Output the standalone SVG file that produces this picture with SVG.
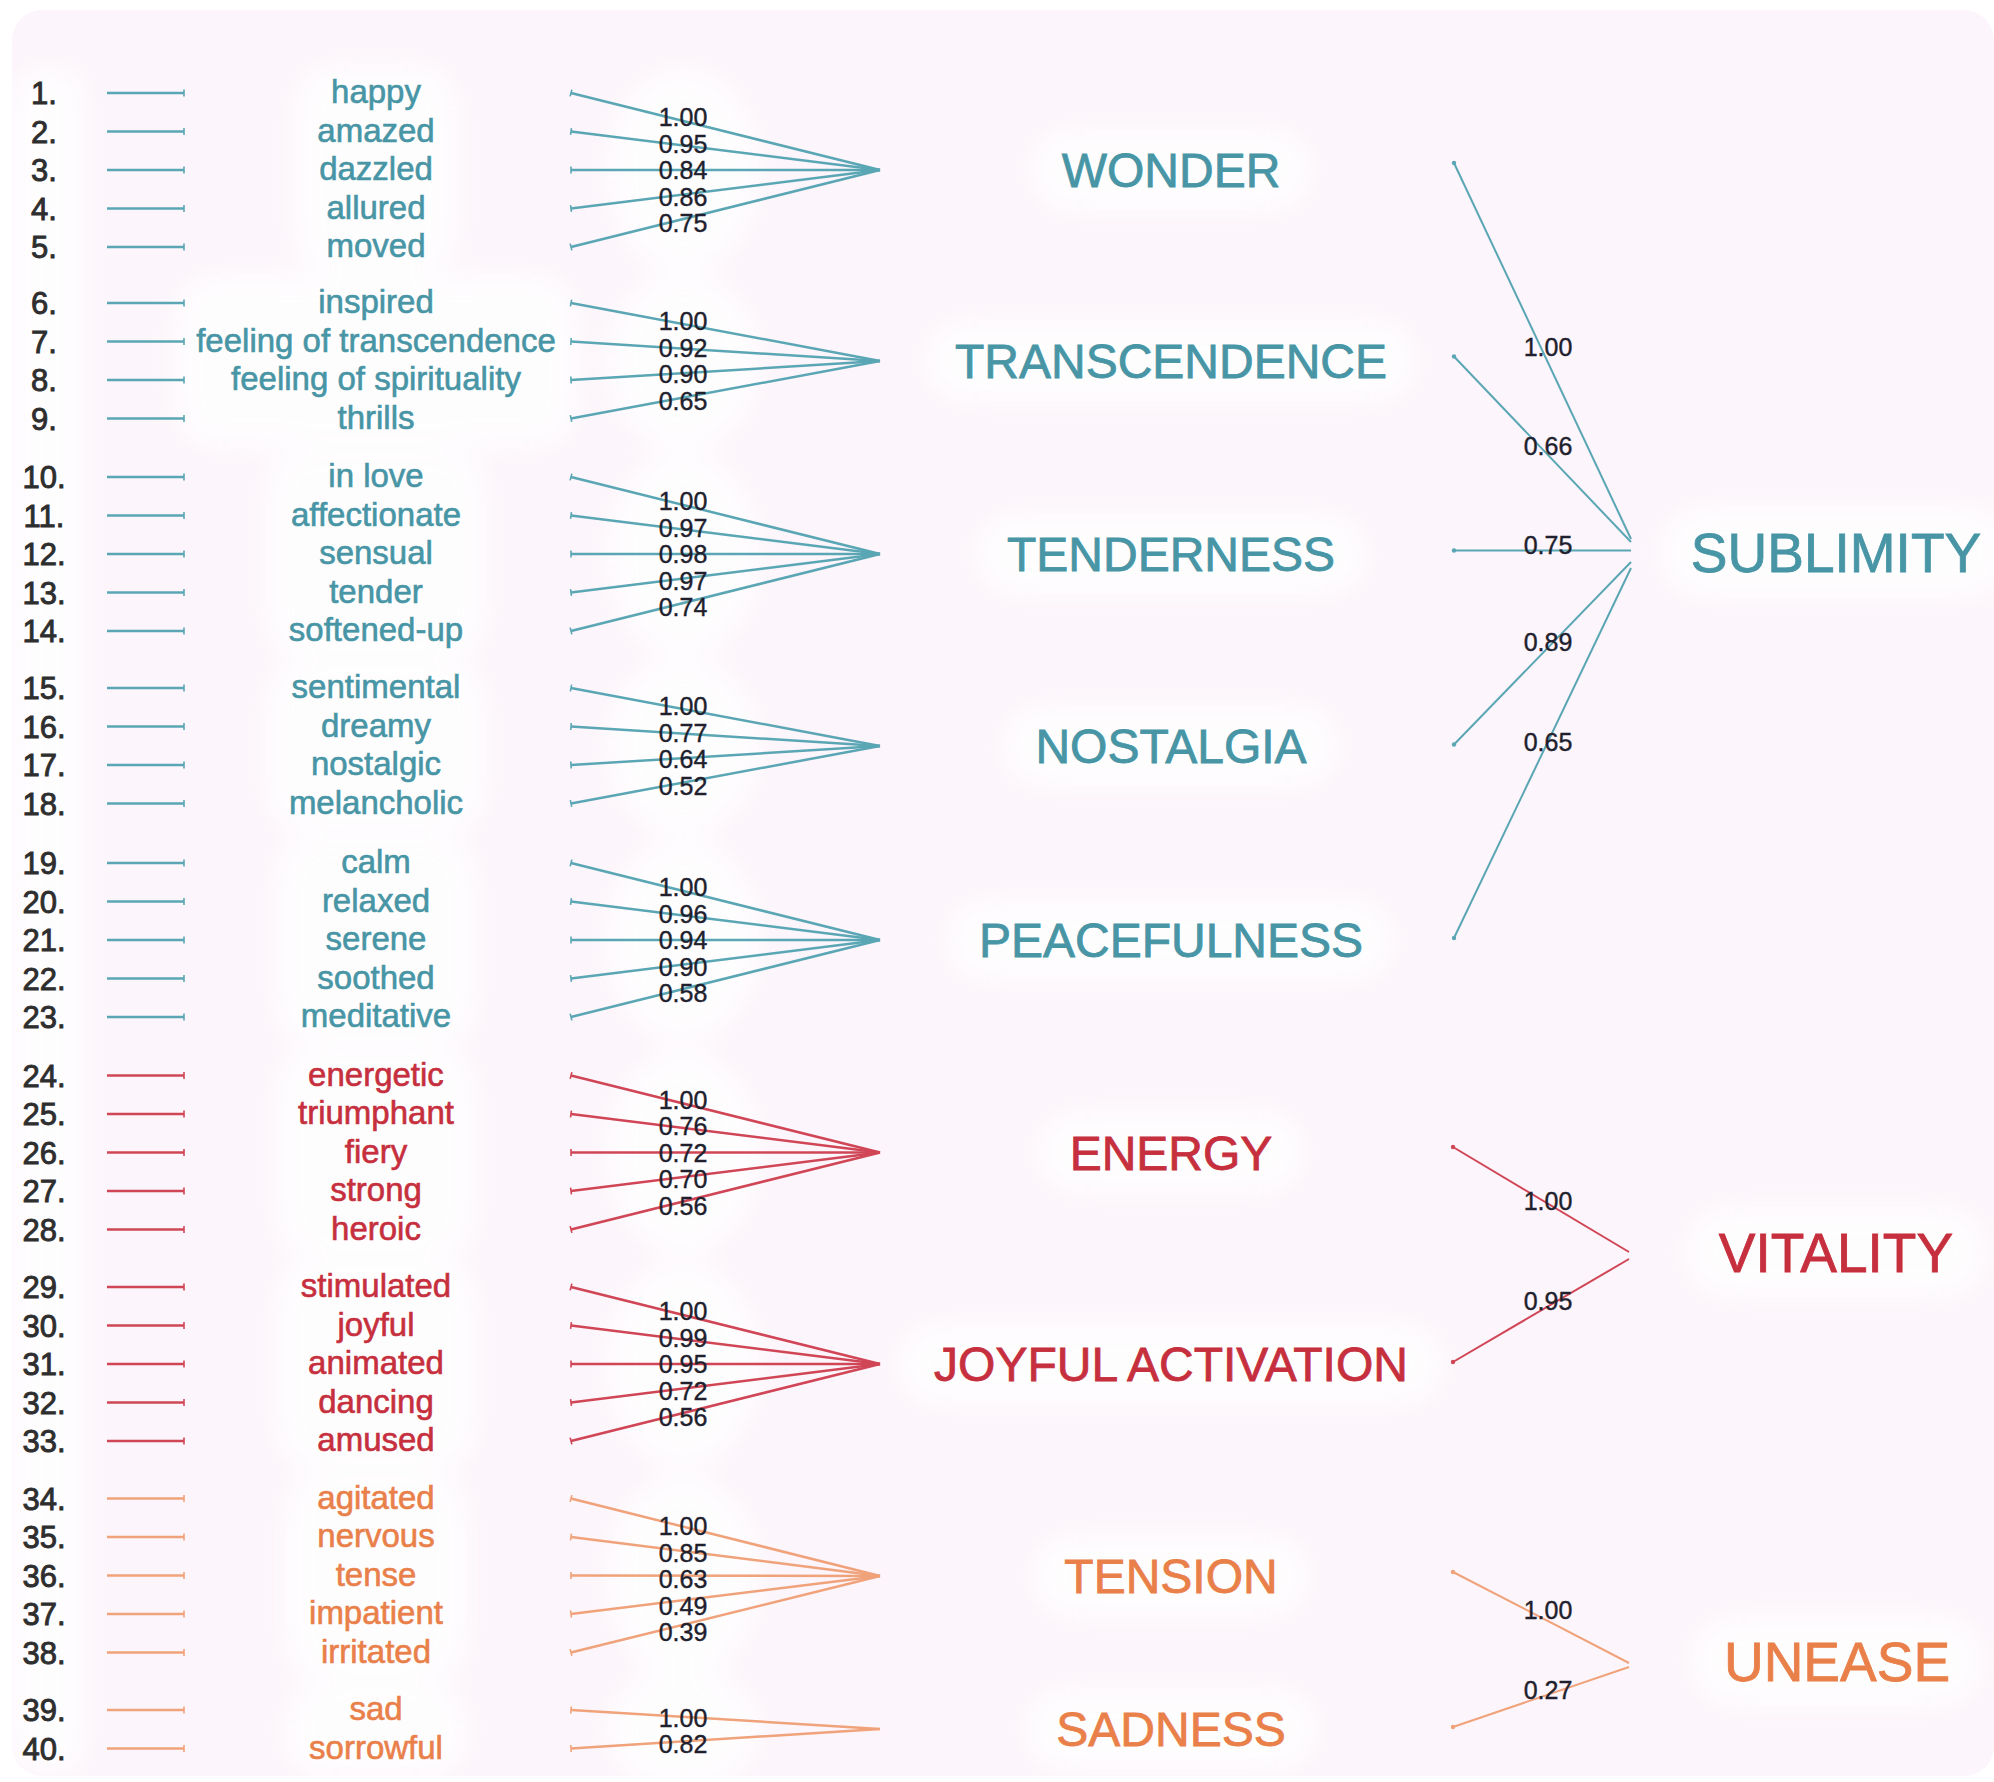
<svg xmlns="http://www.w3.org/2000/svg" width="1994" height="1782" viewBox="0 0 1994 1782">
  <defs>
    <style>
      text { font-family: "Liberation Sans", Arial, Helvetica, sans-serif; }
      .num { font-size: 31px; fill: #2e2e2e; stroke: #2e2e2e; stroke-width: 0.9; text-anchor: middle; }
      .word { font-size: 33px; text-anchor: middle; stroke-width: 0.6; }
      .ld { font-size: 25px; fill: #1f1f2d; stroke: #1f1f2d; stroke-width: 0.4; text-anchor: middle; }
      .f1 { font-size: 48px; text-anchor: middle; stroke-width: 0.8; }
      .f2 { font-size: 55px; text-anchor: middle; stroke-width: 0.8; }
      .teal { fill: #4795a5; stroke: #4795a5; }
      .red { fill: #c62f3d; stroke: #c62f3d; }
      .orange { fill: #e9804a; stroke: #e9804a; }
      .row-t { stroke: #5aa6b4; stroke-width: 2.6; marker-end: url(#tickT); }
      .row-r { stroke: #d04656; stroke-width: 2.6; marker-end: url(#tickR); }
      .row-o { stroke: #f0a27a; stroke-width: 2.6; marker-end: url(#tickO); }
      .fan-t { stroke: #5aa6b4; stroke-width: 2.5; marker-start: url(#tickT); }
      .fan-r { stroke: #d04656; stroke-width: 2.5; marker-start: url(#tickR); }
      .fan-o { stroke: #f0a27a; stroke-width: 2.5; marker-start: url(#tickO); }
      .top-t { stroke: #5aa6b4; stroke-width: 2; marker-start: url(#dotT); }
      .top-r { stroke: #d04656; stroke-width: 2; marker-start: url(#dotR); }
      .top-o { stroke: #f0a27a; stroke-width: 2; marker-start: url(#dotO); }
      .halo { fill: #ffffff; }
    </style>
    <filter id="soft" x="-40%" y="-40%" width="180%" height="180%">
      <feGaussianBlur stdDeviation="14"/>
    </filter>
    <marker id="tickT" viewBox="0 0 4 10" refX="2" refY="5" markerWidth="4" markerHeight="10" markerUnits="userSpaceOnUse" orient="auto">
      <path d="M2 1.5V8.5" stroke="#5aa6b4" stroke-width="1.6"/>
    </marker>
    <marker id="tickR" viewBox="0 0 4 10" refX="2" refY="5" markerWidth="4" markerHeight="10" markerUnits="userSpaceOnUse" orient="auto">
      <path d="M2 1.5V8.5" stroke="#d04656" stroke-width="1.6"/>
    </marker>
    <marker id="tickO" viewBox="0 0 4 10" refX="2" refY="5" markerWidth="4" markerHeight="10" markerUnits="userSpaceOnUse" orient="auto">
      <path d="M2 1.5V8.5" stroke="#f0a27a" stroke-width="1.6"/>
    </marker>
    <marker id="dotT" viewBox="0 0 6 6" refX="3" refY="3" markerWidth="6" markerHeight="6" markerUnits="userSpaceOnUse">
      <circle cx="3" cy="3" r="2.2" fill="#5aa6b4"/>
    </marker>
    <marker id="dotR" viewBox="0 0 6 6" refX="3" refY="3" markerWidth="6" markerHeight="6" markerUnits="userSpaceOnUse">
      <circle cx="3" cy="3" r="2.2" fill="#d04656"/>
    </marker>
    <marker id="dotO" viewBox="0 0 6 6" refX="3" refY="3" markerWidth="6" markerHeight="6" markerUnits="userSpaceOnUse">
      <circle cx="3" cy="3" r="2.2" fill="#f0a27a"/>
    </marker>
  </defs>

  <!-- page -->
  <rect width="1994" height="1782" fill="#ffffff"/>
  <rect x="12" y="10" width="1982" height="1766" rx="30" fill="#fcf5fb"/>

  <!-- soft white glow behind the text blocks -->
  <g id="glow" filter="url(#soft)" opacity="0.85">
    <rect class="halo" x="14" y="70" width="70" height="1700" rx="20"/>
    <rect class="halo" x="296" y="65" width="160" height="210" rx="40"/>
    <rect class="halo" x="176" y="275" width="400" height="172" rx="40"/>
    <rect class="halo" x="266" y="449" width="220" height="210" rx="40"/>
    <rect class="halo" x="266" y="660" width="220" height="172" rx="40"/>
    <rect class="halo" x="276" y="835" width="200" height="210" rx="40"/>
    <rect class="halo" x="276" y="1048" width="200" height="210" rx="40"/>
    <rect class="halo" x="276" y="1259" width="200" height="210" rx="40"/>
    <rect class="halo" x="286" y="1471" width="180" height="210" rx="40"/>
    <rect class="halo" x="286" y="1682" width="180" height="95" rx="40"/>
    <ellipse class="halo" cx="683" cy="170" rx="75" ry="101"/>
    <ellipse class="halo" cx="683" cy="361" rx="75" ry="88"/>
    <ellipse class="halo" cx="683" cy="554" rx="75" ry="101"/>
    <ellipse class="halo" cx="683" cy="746" rx="75" ry="88"/>
    <ellipse class="halo" cx="683" cy="940" rx="75" ry="101"/>
    <ellipse class="halo" cx="683" cy="1152" rx="75" ry="101"/>
    <ellipse class="halo" cx="683" cy="1364" rx="75" ry="101"/>
    <ellipse class="halo" cx="683" cy="1576" rx="75" ry="101"/>
    <ellipse class="halo" cx="683" cy="1729" rx="75" ry="61"/>
    <rect class="halo" x="1031" y="130" width="280" height="80" rx="40"/>
    <rect class="halo" x="926" y="321" width="490" height="80" rx="40"/>
    <rect class="halo" x="976" y="514" width="390" height="80" rx="40"/>
    <rect class="halo" x="1003" y="706" width="335" height="80" rx="40"/>
    <rect class="halo" x="948" y="900" width="445" height="80" rx="40"/>
    <rect class="halo" x="1038" y="1112" width="265" height="80" rx="40"/>
    <rect class="halo" x="898" y="1324" width="545" height="80" rx="40"/>
    <rect class="halo" x="1033" y="1536" width="275" height="80" rx="40"/>
    <rect class="halo" x="1026" y="1689" width="290" height="80" rx="40"/>
    <rect class="halo" x="1661" y="507" width="350" height="90" rx="45"/>
    <rect class="halo" x="1686" y="1207" width="300" height="90" rx="45"/>
    <rect class="halo" x="1692" y="1616" width="290" height="90" rx="45"/>
  </g>

  <!-- connectors: item-to-factor fans and factor-to-higher-order links -->
  <g id="connectors">
    <!-- WONDER -->
    <line class="fan-t" x1="571" y1="93" x2="880" y2="170"/>
    <line class="fan-t" x1="571" y1="131.5" x2="880" y2="170"/>
    <line class="fan-t" x1="571" y1="170" x2="880" y2="170"/>
    <line class="fan-t" x1="571" y1="208.5" x2="880" y2="170"/>
    <line class="fan-t" x1="571" y1="247" x2="880" y2="170"/>
    <!-- TRANSCENDENCE -->
    <line class="fan-t" x1="571" y1="303" x2="880" y2="361"/>
    <line class="fan-t" x1="571" y1="341.5" x2="880" y2="361"/>
    <line class="fan-t" x1="571" y1="380" x2="880" y2="361"/>
    <line class="fan-t" x1="571" y1="418.5" x2="880" y2="361"/>
    <!-- TENDERNESS -->
    <line class="fan-t" x1="571" y1="477" x2="880" y2="554"/>
    <line class="fan-t" x1="571" y1="515.5" x2="880" y2="554"/>
    <line class="fan-t" x1="571" y1="554" x2="880" y2="554"/>
    <line class="fan-t" x1="571" y1="592.5" x2="880" y2="554"/>
    <line class="fan-t" x1="571" y1="631" x2="880" y2="554"/>
    <!-- NOSTALGIA -->
    <line class="fan-t" x1="571" y1="688" x2="880" y2="746"/>
    <line class="fan-t" x1="571" y1="726.5" x2="880" y2="746"/>
    <line class="fan-t" x1="571" y1="765" x2="880" y2="746"/>
    <line class="fan-t" x1="571" y1="803.5" x2="880" y2="746"/>
    <!-- PEACEFULNESS -->
    <line class="fan-t" x1="571" y1="863" x2="880" y2="940"/>
    <line class="fan-t" x1="571" y1="901.5" x2="880" y2="940"/>
    <line class="fan-t" x1="571" y1="940" x2="880" y2="940"/>
    <line class="fan-t" x1="571" y1="978.5" x2="880" y2="940"/>
    <line class="fan-t" x1="571" y1="1017" x2="880" y2="940"/>
    <!-- ENERGY -->
    <line class="fan-r" x1="571" y1="1075.5" x2="880" y2="1152.5"/>
    <line class="fan-r" x1="571" y1="1114" x2="880" y2="1152.5"/>
    <line class="fan-r" x1="571" y1="1152.5" x2="880" y2="1152.5"/>
    <line class="fan-r" x1="571" y1="1191" x2="880" y2="1152.5"/>
    <line class="fan-r" x1="571" y1="1229.5" x2="880" y2="1152.5"/>
    <!-- JOYFUL ACTIVATION -->
    <line class="fan-r" x1="571" y1="1287" x2="880" y2="1364"/>
    <line class="fan-r" x1="571" y1="1325.5" x2="880" y2="1364"/>
    <line class="fan-r" x1="571" y1="1364" x2="880" y2="1364"/>
    <line class="fan-r" x1="571" y1="1402.5" x2="880" y2="1364"/>
    <line class="fan-r" x1="571" y1="1441" x2="880" y2="1364"/>
    <!-- TENSION -->
    <line class="fan-o" x1="571" y1="1498.5" x2="880" y2="1576"/>
    <line class="fan-o" x1="571" y1="1537" x2="880" y2="1576"/>
    <line class="fan-o" x1="571" y1="1575.5" x2="880" y2="1576"/>
    <line class="fan-o" x1="571" y1="1614" x2="880" y2="1576"/>
    <line class="fan-o" x1="571" y1="1652.5" x2="880" y2="1576"/>
    <!-- SADNESS -->
    <line class="fan-o" x1="571" y1="1710" x2="880" y2="1729"/>
    <line class="fan-o" x1="571" y1="1748.5" x2="880" y2="1729"/>

    <!-- SUBLIMITY -->
    <line class="top-t" x1="1454" y1="163" x2="1631" y2="539"/>
    <line class="top-t" x1="1454" y1="356.5" x2="1631" y2="542"/>
    <line class="top-t" x1="1454" y1="550.5" x2="1631" y2="550.5"/>
    <line class="top-t" x1="1454" y1="744.5" x2="1631" y2="562"/>
    <line class="top-t" x1="1454" y1="938" x2="1631" y2="568"/>
    <!-- VITALITY -->
    <line class="top-r" x1="1453" y1="1147" x2="1629" y2="1252"/>
    <line class="top-r" x1="1453" y1="1362" x2="1629" y2="1259"/>
    <!-- UNEASE -->
    <line class="top-o" x1="1453" y1="1572" x2="1629" y2="1663"/>
    <line class="top-o" x1="1453" y1="1727" x2="1629" y2="1667"/>
  </g>

  <!-- loading values on the item fans -->
  <g id="loadings">
    <text class="ld" x="683" y="126">1.00</text>
    <text class="ld" x="683" y="152.5">0.95</text>
    <text class="ld" x="683" y="179">0.84</text>
    <text class="ld" x="683" y="205.5">0.86</text>
    <text class="ld" x="683" y="232">0.75</text>

    <text class="ld" x="683" y="330">1.00</text>
    <text class="ld" x="683" y="356.5">0.92</text>
    <text class="ld" x="683" y="383">0.90</text>
    <text class="ld" x="683" y="409.5">0.65</text>

    <text class="ld" x="683" y="510">1.00</text>
    <text class="ld" x="683" y="536.5">0.97</text>
    <text class="ld" x="683" y="563">0.98</text>
    <text class="ld" x="683" y="589.5">0.97</text>
    <text class="ld" x="683" y="616">0.74</text>

    <text class="ld" x="683" y="715">1.00</text>
    <text class="ld" x="683" y="741.5">0.77</text>
    <text class="ld" x="683" y="768">0.64</text>
    <text class="ld" x="683" y="794.5">0.52</text>

    <text class="ld" x="683" y="896">1.00</text>
    <text class="ld" x="683" y="922.5">0.96</text>
    <text class="ld" x="683" y="949">0.94</text>
    <text class="ld" x="683" y="975.5">0.90</text>
    <text class="ld" x="683" y="1002">0.58</text>

    <text class="ld" x="683" y="1108.5">1.00</text>
    <text class="ld" x="683" y="1135">0.76</text>
    <text class="ld" x="683" y="1161.5">0.72</text>
    <text class="ld" x="683" y="1188">0.70</text>
    <text class="ld" x="683" y="1214.5">0.56</text>

    <text class="ld" x="683" y="1320">1.00</text>
    <text class="ld" x="683" y="1346.5">0.99</text>
    <text class="ld" x="683" y="1373">0.95</text>
    <text class="ld" x="683" y="1399.5">0.72</text>
    <text class="ld" x="683" y="1426">0.56</text>

    <text class="ld" x="683" y="1535">1.00</text>
    <text class="ld" x="683" y="1561.5">0.85</text>
    <text class="ld" x="683" y="1588">0.63</text>
    <text class="ld" x="683" y="1614.5">0.49</text>
    <text class="ld" x="683" y="1641">0.39</text>

    <text class="ld" x="683" y="1727">1.00</text>
    <text class="ld" x="683" y="1753">0.82</text>

    <!-- higher-order loadings -->
    <text class="ld" x="1548" y="356">1.00</text>
    <text class="ld" x="1548" y="455">0.66</text>
    <text class="ld" x="1548" y="554">0.75</text>
    <text class="ld" x="1548" y="651">0.89</text>
    <text class="ld" x="1548" y="751">0.65</text>
    <text class="ld" x="1548" y="1210">1.00</text>
    <text class="ld" x="1548" y="1310">0.95</text>
    <text class="ld" x="1548" y="1619">1.00</text>
    <text class="ld" x="1548" y="1699">0.27</text>
  </g>

  <!-- items: number, stub line, adjective -->
  <g id="items">
    <g id="item-1"><text class="num" x="44" y="104">1.</text><line class="row-t" x1="107" y1="93" x2="184" y2="93"/><text class="word teal" x="376" y="103">happy</text></g>
    <g id="item-2"><text class="num" x="44" y="142.5">2.</text><line class="row-t" x1="107" y1="131.5" x2="184" y2="131.5"/><text class="word teal" x="376" y="141.5">amazed</text></g>
    <g id="item-3"><text class="num" x="44" y="181">3.</text><line class="row-t" x1="107" y1="170" x2="184" y2="170"/><text class="word teal" x="376" y="180">dazzled</text></g>
    <g id="item-4"><text class="num" x="44" y="219.5">4.</text><line class="row-t" x1="107" y1="208.5" x2="184" y2="208.5"/><text class="word teal" x="376" y="218.5">allured</text></g>
    <g id="item-5"><text class="num" x="44" y="258">5.</text><line class="row-t" x1="107" y1="247" x2="184" y2="247"/><text class="word teal" x="376" y="257">moved</text></g>

    <g id="item-6"><text class="num" x="44" y="314">6.</text><line class="row-t" x1="107" y1="303" x2="184" y2="303"/><text class="word teal" x="376" y="313">inspired</text></g>
    <g id="item-7"><text class="num" x="44" y="352.5">7.</text><line class="row-t" x1="107" y1="341.5" x2="184" y2="341.5"/><text class="word teal" x="376" y="351.5">feeling of transcendence</text></g>
    <g id="item-8"><text class="num" x="44" y="391">8.</text><line class="row-t" x1="107" y1="380" x2="184" y2="380"/><text class="word teal" x="376" y="390">feeling of spirituality</text></g>
    <g id="item-9"><text class="num" x="44" y="429.5">9.</text><line class="row-t" x1="107" y1="418.5" x2="184" y2="418.5"/><text class="word teal" x="376" y="428.5">thrills</text></g>

    <g id="item-10"><text class="num" x="44" y="488">10.</text><line class="row-t" x1="107" y1="477" x2="184" y2="477"/><text class="word teal" x="376" y="487">in love</text></g>
    <g id="item-11"><text class="num" x="44" y="526.5">11.</text><line class="row-t" x1="107" y1="515.5" x2="184" y2="515.5"/><text class="word teal" x="376" y="525.5">affectionate</text></g>
    <g id="item-12"><text class="num" x="44" y="565">12.</text><line class="row-t" x1="107" y1="554" x2="184" y2="554"/><text class="word teal" x="376" y="564">sensual</text></g>
    <g id="item-13"><text class="num" x="44" y="603.5">13.</text><line class="row-t" x1="107" y1="592.5" x2="184" y2="592.5"/><text class="word teal" x="376" y="602.5">tender</text></g>
    <g id="item-14"><text class="num" x="44" y="642">14.</text><line class="row-t" x1="107" y1="631" x2="184" y2="631"/><text class="word teal" x="376" y="641">softened-up</text></g>

    <g id="item-15"><text class="num" x="44" y="699">15.</text><line class="row-t" x1="107" y1="688" x2="184" y2="688"/><text class="word teal" x="376" y="698">sentimental</text></g>
    <g id="item-16"><text class="num" x="44" y="737.5">16.</text><line class="row-t" x1="107" y1="726.5" x2="184" y2="726.5"/><text class="word teal" x="376" y="736.5">dreamy</text></g>
    <g id="item-17"><text class="num" x="44" y="776">17.</text><line class="row-t" x1="107" y1="765" x2="184" y2="765"/><text class="word teal" x="376" y="775">nostalgic</text></g>
    <g id="item-18"><text class="num" x="44" y="814.5">18.</text><line class="row-t" x1="107" y1="803.5" x2="184" y2="803.5"/><text class="word teal" x="376" y="813.5">melancholic</text></g>

    <g id="item-19"><text class="num" x="44" y="874">19.</text><line class="row-t" x1="107" y1="863" x2="184" y2="863"/><text class="word teal" x="376" y="873">calm</text></g>
    <g id="item-20"><text class="num" x="44" y="912.5">20.</text><line class="row-t" x1="107" y1="901.5" x2="184" y2="901.5"/><text class="word teal" x="376" y="911.5">relaxed</text></g>
    <g id="item-21"><text class="num" x="44" y="951">21.</text><line class="row-t" x1="107" y1="940" x2="184" y2="940"/><text class="word teal" x="376" y="950">serene</text></g>
    <g id="item-22"><text class="num" x="44" y="989.5">22.</text><line class="row-t" x1="107" y1="978.5" x2="184" y2="978.5"/><text class="word teal" x="376" y="988.5">soothed</text></g>
    <g id="item-23"><text class="num" x="44" y="1028">23.</text><line class="row-t" x1="107" y1="1017" x2="184" y2="1017"/><text class="word teal" x="376" y="1027">meditative</text></g>

    <g id="item-24"><text class="num" x="44" y="1086.5">24.</text><line class="row-r" x1="107" y1="1075.5" x2="184" y2="1075.5"/><text class="word red" x="376" y="1085.5">energetic</text></g>
    <g id="item-25"><text class="num" x="44" y="1125">25.</text><line class="row-r" x1="107" y1="1114" x2="184" y2="1114"/><text class="word red" x="376" y="1124">triumphant</text></g>
    <g id="item-26"><text class="num" x="44" y="1163.5">26.</text><line class="row-r" x1="107" y1="1152.5" x2="184" y2="1152.5"/><text class="word red" x="376" y="1162.5">fiery</text></g>
    <g id="item-27"><text class="num" x="44" y="1202">27.</text><line class="row-r" x1="107" y1="1191" x2="184" y2="1191"/><text class="word red" x="376" y="1201">strong</text></g>
    <g id="item-28"><text class="num" x="44" y="1240.5">28.</text><line class="row-r" x1="107" y1="1229.5" x2="184" y2="1229.5"/><text class="word red" x="376" y="1239.5">heroic</text></g>

    <g id="item-29"><text class="num" x="44" y="1298">29.</text><line class="row-r" x1="107" y1="1287" x2="184" y2="1287"/><text class="word red" x="376" y="1297">stimulated</text></g>
    <g id="item-30"><text class="num" x="44" y="1336.5">30.</text><line class="row-r" x1="107" y1="1325.5" x2="184" y2="1325.5"/><text class="word red" x="376" y="1335.5">joyful</text></g>
    <g id="item-31"><text class="num" x="44" y="1375">31.</text><line class="row-r" x1="107" y1="1364" x2="184" y2="1364"/><text class="word red" x="376" y="1374">animated</text></g>
    <g id="item-32"><text class="num" x="44" y="1413.5">32.</text><line class="row-r" x1="107" y1="1402.5" x2="184" y2="1402.5"/><text class="word red" x="376" y="1412.5">dancing</text></g>
    <g id="item-33"><text class="num" x="44" y="1452">33.</text><line class="row-r" x1="107" y1="1441" x2="184" y2="1441"/><text class="word red" x="376" y="1451">amused</text></g>

    <g id="item-34"><text class="num" x="44" y="1509.5">34.</text><line class="row-o" x1="107" y1="1498.5" x2="184" y2="1498.5"/><text class="word orange" x="376" y="1508.5">agitated</text></g>
    <g id="item-35"><text class="num" x="44" y="1548">35.</text><line class="row-o" x1="107" y1="1537" x2="184" y2="1537"/><text class="word orange" x="376" y="1547">nervous</text></g>
    <g id="item-36"><text class="num" x="44" y="1586.5">36.</text><line class="row-o" x1="107" y1="1575.5" x2="184" y2="1575.5"/><text class="word orange" x="376" y="1585.5">tense</text></g>
    <g id="item-37"><text class="num" x="44" y="1625">37.</text><line class="row-o" x1="107" y1="1614" x2="184" y2="1614"/><text class="word orange" x="376" y="1624">impatient</text></g>
    <g id="item-38"><text class="num" x="44" y="1663.5">38.</text><line class="row-o" x1="107" y1="1652.5" x2="184" y2="1652.5"/><text class="word orange" x="376" y="1662.5">irritated</text></g>

    <g id="item-39"><text class="num" x="44" y="1721">39.</text><line class="row-o" x1="107" y1="1710" x2="184" y2="1710"/><text class="word orange" x="376" y="1720">sad</text></g>
    <g id="item-40"><text class="num" x="44" y="1759.5">40.</text><line class="row-o" x1="107" y1="1748.5" x2="184" y2="1748.5"/><text class="word orange" x="376" y="1758.5">sorrowful</text></g>
  </g>

  <!-- first-order factors -->
  <g id="wonder"><text class="f1 teal" x="1171" y="187">WONDER</text></g>
  <g id="transcendence"><text class="f1 teal" x="1171" y="378">TRANSCENDENCE</text></g>
  <g id="tenderness"><text class="f1 teal" x="1171" y="571">TENDERNESS</text></g>
  <g id="nostalgia"><text class="f1 teal" x="1171" y="763">NOSTALGIA</text></g>
  <g id="peacefulness"><text class="f1 teal" x="1171" y="957">PEACEFULNESS</text></g>
  <g id="energy"><text class="f1 red" x="1171" y="1169.5">ENERGY</text></g>
  <g id="joyful-activation"><text class="f1 red" x="1171" y="1381">JOYFUL ACTIVATION</text></g>
  <g id="tension"><text class="f1 orange" x="1171" y="1593">TENSION</text></g>
  <g id="sadness"><text class="f1 orange" x="1171" y="1746">SADNESS</text></g>

  <!-- second-order factors -->
  <g id="sublimity"><text class="f2 teal" x="1836" y="572">SUBLIMITY</text></g>
  <g id="vitality"><text class="f2 red" x="1836" y="1272">VITALITY</text></g>
  <g id="unease"><text class="f2 orange" x="1837" y="1681">UNEASE</text></g>
</svg>
